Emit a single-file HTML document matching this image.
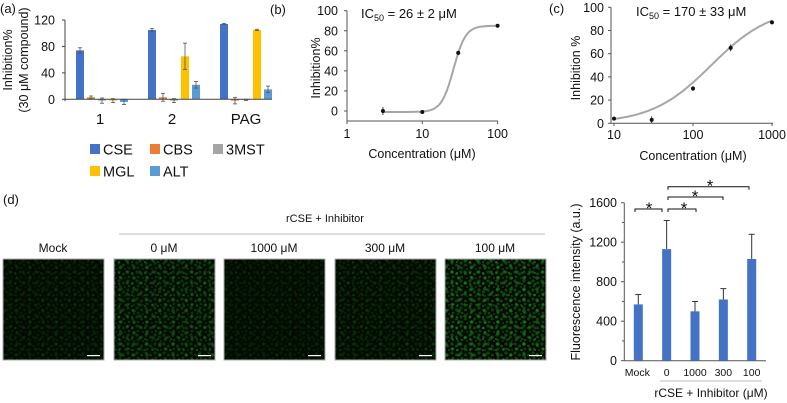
<!DOCTYPE html>
<html><head><meta charset="utf-8"><style>
html,body{margin:0;padding:0;background:#fff;}
svg{display:block;font-family:"Liberation Sans",Arial,sans-serif;}
</style></head><body>
<svg id="fig" width="787" height="403" viewBox="0 0 787 403" xmlns="http://www.w3.org/2000/svg">
<defs>
<pattern id="cells" width="9" height="9" patternUnits="userSpaceOnUse">
<circle cx="2" cy="2" r="1.6" fill="#2fd02f"/><circle cx="6.5" cy="4" r="1.5" fill="#2fd02f"/><circle cx="3" cy="7" r="1.4" fill="#2fd02f"/><circle cx="8" cy="8" r="1" fill="#2fd02f"/>
</pattern>
<pattern id="cells2" width="13" height="11" patternUnits="userSpaceOnUse">
<circle cx="4" cy="3" r="1.8" fill="#33e033"/><circle cx="10" cy="8" r="1.6" fill="#33e033"/><circle cx="2" cy="9" r="1.1" fill="#33e033"/>
</pattern>
</defs>
<g id="root"></g>
</svg>
<script>
// Panel (a) data
const aGroups = ["1","2","PAG"];
const aSeries = ["CSE","CBS","3MST","MGL","ALT"];
const aColors = ["#4472c4","#ed7d31","#a5a5a5","#ffc000","#5b9bd5"];
const aValues = [[74,105,114],[3,3,-2],[-2,-2,-1],[-2,65,105],[-4,22,15]];
const aErrors = [[4,2,1],[2,6,5],[4,3,1],[3,20,1],[4,5,5]];
const aTicks = [0,40,80,120];
// Panel (b) data
const bConc = [3,10,30,100];
const bVals = [0,-1,58,85];
const bErr = [4,2,2,0];
const bTicksY = [0,20,40,60,80,100];
const bTicksX = [1,10,100];
// Panel (c) data
const cConc = [10,30,100,300,1000];
const cVals = [4,3,30,65,87];
const cErr = [0,3,2,3,0];
const cTicksY = [0,20,40,60,80,100];
const cTicksX = [10,100,1000];
// Panel (d) data
const dCats = ["Mock","0","1000","300","100"];
const dVals = [570,1130,500,620,1030];
const dErr = [100,290,100,110,250];
const dTicks = [0,400,800,1200,1600];
const imgLabels = ["Mock","0 μM","1000 μM","300 μM","100 μM"];
const imgBright = [0.3,0.7,0.25,0.35,0.95];

const NS="http://www.w3.org/2000/svg";
const root=document.getElementById('root');
function mk(tag,attrs,parent){const e=document.createElementNS(NS,tag);for(const k in attrs)e.setAttribute(k,attrs[k]);(parent||root).appendChild(e);return e;}
function txt(s,x,y,size,anchor,parent,extra){const t=mk('text',Object.assign({x:x,y:y,'font-size':size,'text-anchor':anchor||'middle',fill:'#111'},extra||{}),parent);t.textContent=s;return t;}
function line(x1,y1,x2,y2,col,w,parent){return mk('line',{x1,y1,x2,y2,stroke:col||'#333','stroke-width':w||1},parent);}

// ===== Panel a =====
const ga=mk('g',{});


const ay=v=>99.3-(v/120)*79.3;
const groupX=[102,174,246];
const aLab=txt("(a)",0,13,13,'start',ga);


line(65,ay(120),65,ay(0)+2,'#444',1,ga);
aTicks.forEach(t=>{line(62,ay(t),65,ay(t),'#444',1,ga);const l=txt(String(t),55,ay(t)+4.5,12.5,'end',ga);

});
aSeries.forEach((s,si)=>{aGroups.forEach((g,gi)=>{
 const cx=groupX[gi]+(si-2)*11;const v=aValues[si][gi];
 const r=mk('rect',{x:cx-4,y:Math.min(ay(v),ay(0)),width:8,height:Math.abs(ay(v)-ay(0)),fill:aColors[si]},ga);
 
 
 const e=aErrors[si][gi];
 line(cx,ay(v+e),cx,ay(v-e),'#555',0.8,ga);line(cx-2,ay(v+e),cx+2,ay(v+e),'#555',0.8,ga);line(cx-2,ay(v-e),cx+2,ay(v-e),'#555',0.8,ga);
});});
line(65,ay(0),272,ay(0),'#444',1,ga);
aGroups.forEach((g,gi)=>{const l=txt(g,gi==2?groupX[gi]:groupX[gi]-2,124,15,'middle',ga);

});
const ayt=mk('g',{transform:'translate(12,60) rotate(-90)'},ga);
const at1=txt("Inhibition%",0,0,12.5,'middle',ayt);


txt("(30 μM compound)",0,16,12.5,'middle',ayt);
const legPos=[[90,150],[150,150],[213,150],[90,172],[150,172]];
aSeries.forEach((s,si)=>{const lg=mk('g',{},ga);
 
 
 mk('rect',{x:legPos[si][0],y:legPos[si][1]-6,width:10,height:10,fill:aColors[si]},lg);
 txt(s,legPos[si][0]+13,legPos[si][1]+4.5,14.5,'start',lg);});

// ===== Panel b =====
const gb=mk('g',{});


const bx=c=>347+Math.log10(c)*75.3;
const by=v=>111-(v/100)*100.3;
txt("(b)",270,14,13,'start',gb);
line(347,by(100),347,121,'#555',1,gb);line(347,121,498,121,'#555',1,gb);
bTicksY.forEach(t=>{line(344,by(t),347,by(t),'#555',1,gb);txt(String(t),338,by(t)+4.5,12.5,'end',gb);});
bTicksX.forEach(t=>{line(bx(t),121,bx(t),124,'#555',1,gb);txt(String(t),bx(t),138,12.5,'middle',gb);});
let pb='';for(let i=0;i<=120;i++){const lc=Math.log10(3)+i*(2-Math.log10(3))/120;const c=Math.pow(10,lc);const v=-1+86/(1+Math.pow(26/c,5.4));pb+=(i?'L':'M')+bx(c).toFixed(1)+' '+by(v).toFixed(1);}
const cb=mk('path',{d:pb,fill:'none',stroke:'#a6a6a6','stroke-width':2},gb);


bConc.forEach((c,i)=>{if(bErr[i])line(bx(c),by(bVals[i]+bErr[i]),bx(c),by(bVals[i]-bErr[i]),'#111',0.8,gb);const p=mk('circle',{cx:bx(c),cy:by(bVals[i]),r:2,fill:'#111'},gb);

});
const bic=txt("",361,18,13,'start',gb);bic.innerHTML='IC<tspan font-size="9" dy="3">50</tspan><tspan dy="-3"> = 26 ± 2 μM</tspan>';
const byt=mk('g',{transform:'translate(320,68) rotate(-90)'},gb);txt("Inhibition%",0,0,12.5,'middle',byt);
txt("Concentration (μM)",422,158,12.5,'middle',gb);

// ===== Panel c =====
const gc=mk('g',{});


const cx_=c=>614+(Math.log10(c)-1)*79;
const cy_=v=>123.3-(v/100)*116;
txt("(c)",549,13,13,'start',gc);
line(611,cy_(100),611,123.3,'#555',1,gc);line(611,123.3,773,123.3,'#555',1,gc);
cTicksY.forEach(t=>{line(608,cy_(t),611,cy_(t),'#555',1,gc);txt(String(t),604,cy_(t)+4.5,12.5,'end',gc);});
cTicksX.forEach(t=>{line(cx_(t),123.3,cx_(t),126,'#555',1,gc);txt(String(t),cx_(t),139,12.5,'middle',gc);});
let pc='';for(let i=0;i<=120;i++){const lc=1+i*2/120;const c=Math.pow(10,lc);const v=100/(1+Math.pow(170/c,1.15));pc+=(i?'L':'M')+cx_(c).toFixed(1)+' '+cy_(v).toFixed(1);}
mk('path',{d:pc,fill:'none',stroke:'#a6a6a6','stroke-width':2},gc);
cConc.forEach((c,i)=>{if(cErr[i])line(cx_(c),cy_(cVals[i]+cErr[i]),cx_(c),cy_(cVals[i]-cErr[i]),'#111',0.8,gc);const p=mk('circle',{cx:cx_(c),cy:cy_(cVals[i]),r:2,fill:'#111'},gc);

});
const cic=txt("",636,16,13,'start',gc);cic.innerHTML='IC<tspan font-size="9" dy="3">50</tspan><tspan dy="-3"> = 170 ± 33 μM</tspan>';
const cyt=mk('g',{transform:'translate(580,68) rotate(-90)'},gc);txt("Inhibition %",0,0,12.5,'middle',cyt);
txt("Concentration (μM)",693,160,12.5,'middle',gc);

// ===== Panel d images =====
const gd=mk('g',{});


txt("(d)",3,204,13,'start',gd);
txt("rCSE + Inhibitor",325,222,11,'middle',gd);
line(119,234,545,234,'#bbb',1,gd);
const imgX=[3,114,224,335,445];
imgLabels.forEach((l,i)=>{
 const lab=txt(l,imgX[i]+50,252,12,'middle',gd);
 
 
 const g=mk('g',{},gd);
 
 
 mk('rect',{x:imgX[i],y:259,width:101,height:101,fill:'#020a02',stroke:'#aaa','stroke-width':1},g);
 mk('rect',{x:imgX[i]+0.5,y:259.5,width:100,height:100,fill:'url(#cells)',opacity:imgBright[i]*0.3},g);
 mk('rect',{x:imgX[i]+0.5,y:259.5,width:100,height:100,fill:'url(#cells2)',opacity:imgBright[i]*0.35},g);
 mk('rect',{x:imgX[i]+84,y:355,width:13,height:1.2,fill:'#fff'},g);
});

// ===== Panel d bar chart =====
const ge=mk('g',{});


const dy=v=>360.7-(v/1600)*158;
const dx=i=>638.3+i*28.35;
line(624.3,dy(1600),624.3,dy(0),'#555',1,ge);line(624.3,dy(0),766,dy(0),'#555',1,ge);
dTicks.forEach(t=>{line(621,dy(t),624.3,dy(t),'#555',1,ge);txt(String(t),617,dy(t)+4.5,12.5,'end',ge);});
[200,600,1000,1400].forEach(t=>line(622,dy(t),624.3,dy(t),'#555',1,ge));
dCats.forEach((c,i)=>{
 const r=mk('rect',{x:dx(i)-4.5,y:dy(dVals[i]),width:9,height:dy(0)-dy(dVals[i]),fill:'#4472c4'},ge);
 
 
 line(dx(i),dy(dVals[i]),dx(i),dy(dVals[i]+dErr[i]),'#333',1,ge);line(dx(i)-3,dy(dVals[i]+dErr[i]),dx(i)+3,dy(dVals[i]+dErr[i]),'#333',1,ge);
 txt(c,dx(i)+(i==0?-1:0),376,10.5,'middle',ge);
});
line(660,381,762,381,'#bbb',1,ge);
txt("rCSE + Inhibitor (μM)",711,397,12,'middle',ge);
const dyt=mk('g',{transform:'translate(580,282) rotate(-90)'},ge);txt("Fluorescence intensity (a.u.)",0,0,12.5,'middle',dyt);
function bracket(x1,x2,y,sx){const g=mk('g',{},ge);
 
 
 mk('path',{d:`M${x1} ${y+3}V${y}H${x2}V${y+3}`,fill:'none',stroke:'#111','stroke-width':1},g);txt('*',sx,y+5,17,'middle',g);}
bracket(635,662,209,649);
bracket(668,696,209,684);
bracket(668,723,197,695);
bracket(668,749,186.7,710);
</script>
</body></html>
